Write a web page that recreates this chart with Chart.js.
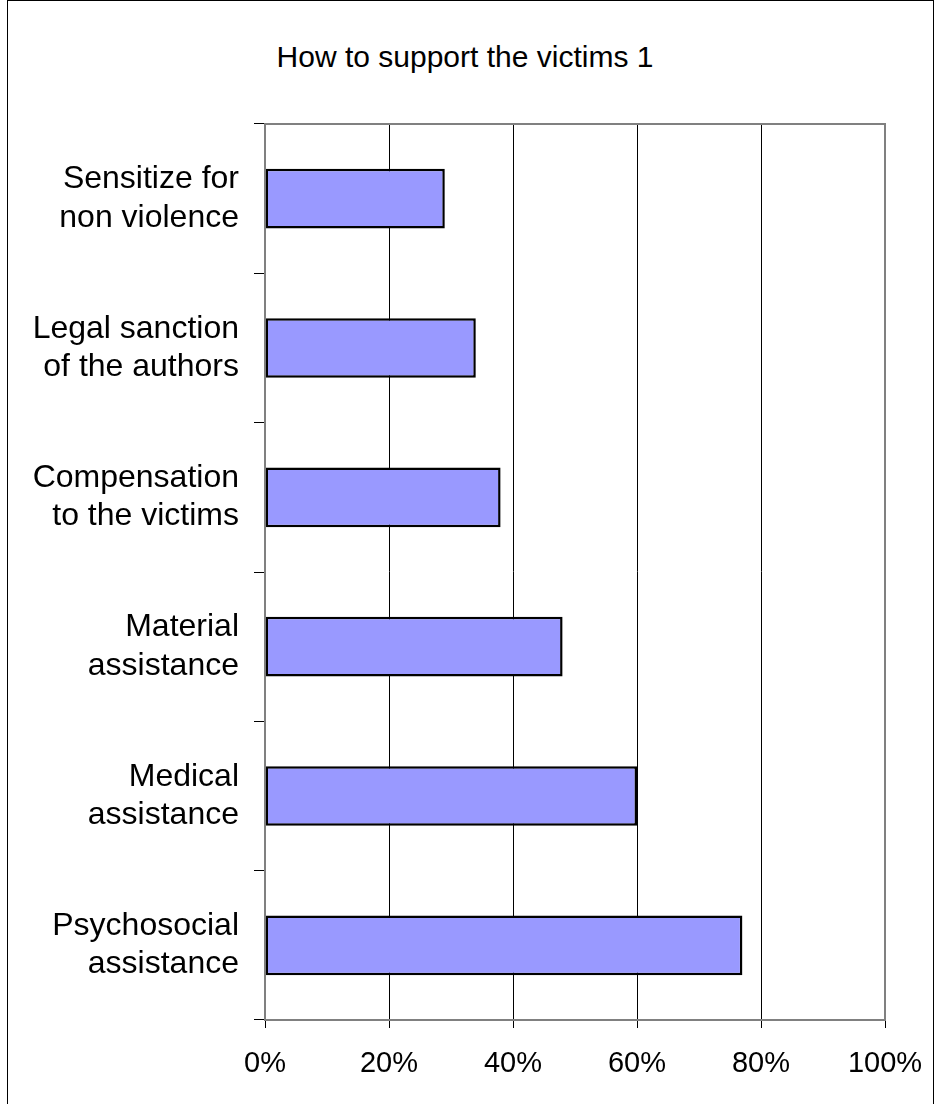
<!DOCTYPE html>
<html>
<head>
<meta charset="utf-8">
<script src="https://cdn.jsdelivr.net/npm/chart.js@4.4.0/dist/chart.umd.min.js"></script>
<style>
  html, body { margin: 0; padding: 0; background: #fff; }
  #wrap { position: relative; width: 938px; height: 1104px; overflow: hidden; }
  #frame { position: absolute; left: 7px; top: 0; width: 927px; height: 1110px; border: 1px solid #000; box-sizing: border-box; }
  #title { position: absolute; left: 0; top: 39px; width: 930px; text-align: center;
           font: 30px/36px "Liberation Sans", Arial, sans-serif; color: #000; }
  canvas { position: absolute; left: 0; top: 0; }
</style>
</head>
<body>
<div id="wrap">
  <div id="frame"></div>
  <div id="title">How to support the victims 1</div>
  <canvas id="chart" width="938" height="1104"></canvas>
</div>
<script>
// Data
const categories = [
  ['Sensitize for', 'non violence'],
  ['Legal sanction', 'of the authors'],
  ['Compensation', 'to the victims'],
  ['Material', 'assistance'],
  ['Medical', 'assistance'],
  ['Psychosocial', 'assistance']
];
const shares = [29, 34, 38, 48, 60, 77];
const xTicks = [0, 20, 40, 60, 80, 100];

const FONT = '"Liberation Sans", Arial, sans-serif';

// gray frame round the plot area
const plotFrame = {
  id: 'plotFrame',
  afterDraw(chart) {
    const a = chart.chartArea, c = chart.ctx;
    c.save();
    c.strokeStyle = '#808080';
    c.lineWidth = 2;
    c.strokeRect(a.left, a.top, a.right - a.left, a.bottom - a.top);
    c.restore();
  }
};

Chart.defaults.animation = false;

new Chart(document.getElementById('chart'), {
  type: 'bar',
  data: {
    labels: categories,
    datasets: [{
      data: shares,
      backgroundColor: '#9999FF',
      borderColor: '#000',
      borderWidth: 2.5,
      borderSkipped: false,
      categoryPercentage: 1,
      barPercentage: 0.4
    }]
  },
  options: {
    indexAxis: 'y',
    responsive: false,
    layout: { padding: { left: 0, right: 53, top: 124, bottom: 0 } },
    plugins: {
      legend: { display: false },
      tooltip: { enabled: false },
      title: { display: false }
    },
    scales: {
      x: {
        min: 0,
        max: 100,
        afterBuildTicks(axis) { axis.ticks = xTicks.map(v => ({ value: v })); },
        afterFit(axis) {
          axis.height = 84;
          axis.paddingLeft = 0;
          axis.paddingRight = 0;
        },
        ticks: {
          color: '#000',
          padding: 19,
          maxRotation: 0,
          font: { family: FONT, size: 29, lineHeight: 1.2 },
          callback: v => v + '%'
        },
        grid: {
          color: ctx => (ctx.tick && ctx.tick.value === 100) ? '#808080' : '#000',
          lineWidth: 1,
          tickLength: 8,
          tickColor: '#000'
        },
        border: { display: true, color: '#808080', width: 2 }
      },
      y: {
        afterFit(axis) { axis.width = 265; },
        ticks: {
          color: '#000',
          padding: 15,
          font: { family: FONT, size: 32, lineHeight: 1.2 }
        },
        grid: {
          drawOnChartArea: false,
          tickLength: 11,
          tickColor: '#000',
          lineWidth: 1
        },
        border: { display: true, color: '#808080', width: 2 }
      }
    }
  },
  plugins: [plotFrame]
});
</script>
</body>
</html>
